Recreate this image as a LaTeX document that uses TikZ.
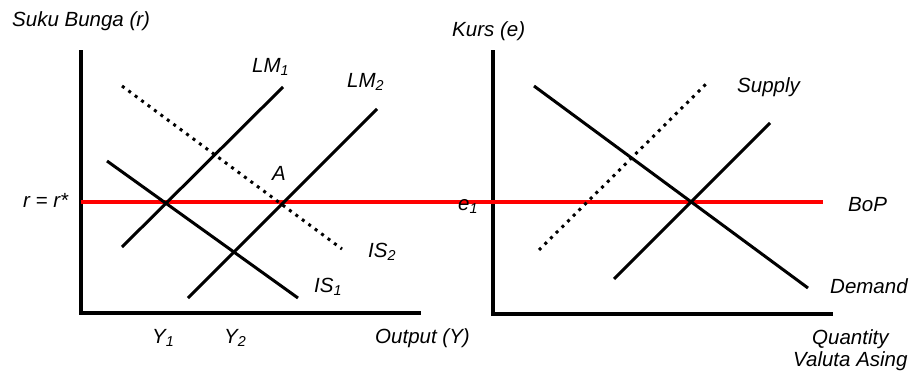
\documentclass[tikz,border=0pt]{standalone}
\usepackage{fontspec}
\setmainfont{Liberation Sans}
\tikzset{
  lbl/.style={font=\itshape\fontsize{20.5}{23}\selectfont, inner sep=0pt, anchor=base west},
  axisline/.style={line width=3.4pt},
  curveline/.style={line width=3pt},
  dotline/.style={line width=3pt, dash pattern=on 3pt off 5pt},
  bopline/.style={line width=3.2pt, red}
}
\begin{document}
\begin{tikzpicture}[x=1pt,y=-1pt]
\useasboundingbox (0,0) rectangle (912,372);
% coordinates
\coordinate (lyt) at (81,50);
\coordinate (lo) at (81,313);
\coordinate (lxe) at (421,313);
\coordinate (ryt) at (493,50);
\coordinate (ro) at (493,314);
\coordinate (rxe) at (833,314);
\coordinate (lm1a) at (122,247);
\coordinate (lm1b) at (283,87);
\coordinate (lm2a) at (188,298);
\coordinate (lm2b) at (377,109);
\coordinate (is1a) at (107,161);
\coordinate (is1b) at (298,298);
\coordinate (is2a) at (122,86);
\coordinate (is2b) at (342,249);
\coordinate (bopa) at (81,202);
\coordinate (bopb) at (823,202);
\coordinate (dema) at (534,86);
\coordinate (demb) at (808,288);
\coordinate (supa) at (539,250);
\coordinate (supb) at (709,81);
\coordinate (s2a) at (614,279);
\coordinate (s2b) at (770,123);
% axes
\draw[axisline] (lyt) -- (lo) -- (lxe);
\draw[axisline] (ryt) -- (ro) -- (rxe);
% curves
\draw[bopline] (bopa) -- (bopb);
\draw[curveline] (lm1a) -- (lm1b);
\draw[curveline] (lm2a) -- (lm2b);
\draw[curveline] (is1a) -- (is1b);
\draw[dotline] (is2a) -- (is2b);
\draw[curveline] (dema) -- (demb);
\draw[dotline] (supa) -- (supb);
\draw[curveline] (s2a) -- (s2b);
% labels
\node[lbl] (t1) at (12,26) {Suku Bunga (r)};
\node[lbl] (t2) at (452,36) {Kurs (e)};
\node[lbl] (t3) at (252,72) {LM\textsubscript{1}};
\node[lbl] (t4) at (347,87) {LM\textsubscript{2}};
\node[lbl] (t5) at (272,180) {A};
\node[lbl] (t6) at (23,207) {r = r*};
\node[lbl] (t7) at (368,257) {IS\textsubscript{2}};
\node[lbl] (t8) at (314,292) {IS\textsubscript{1}};
\node[lbl] (t9) at (152,343) {Y\textsubscript{1}};
\node[lbl] (t10) at (224,343) {Y\textsubscript{2}};
\node[lbl] (t11) at (375,343) {Output (Y)};
\node[lbl] (t12) at (458,210) {e\textsubscript{1}};
\node[lbl] (t13) at (848,211) {BoP};
\node[lbl] (t14) at (737,92) {Supply};
\node[lbl] (t15) at (830,293) {Demand};
\node[lbl] (t16) at (812,344) {Quantity};
\node[lbl] (t17) at (793,366) {Valuta Asing};
\end{tikzpicture}
\end{document}
